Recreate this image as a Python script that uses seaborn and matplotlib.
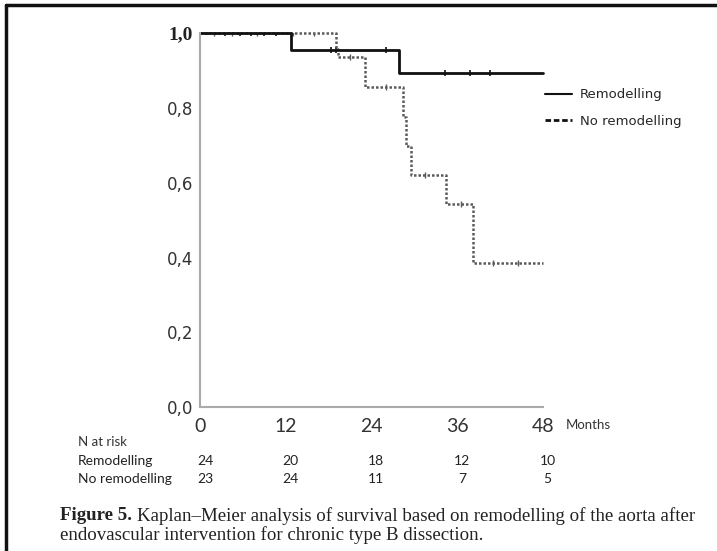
import numpy as np
import pandas as pd
import matplotlib
matplotlib.use("Agg")
import matplotlib.pyplot as plt
from matplotlib.lines import Line2D
import seaborn as sns

# Kaplan-Meier step values (months, cumulative survival)
remod_time = [0, 12.7, 27.8, 48]
remod_surv = [1.0, 0.955, 0.894, 0.894]
noremod_time = [0, 19.0, 19.3, 23.1, 28.4, 28.9, 29.6, 34.4, 38.2, 48]
noremod_surv = [1.0, 0.957, 0.935, 0.856, 0.776, 0.698, 0.620, 0.543, 0.386, 0.386]

# censored observations (tick marks on the curves)
remod_censor = [3.5, 5.6, 7.2, 8.9, 10.7, 18.4, 19.0, 26.1, 34.3, 37.8, 40.6]
noremod_censor = [2.0, 4.5, 8.0, 13.0, 16.0, 21.0, 26.0, 31.5, 36.5, 41.0, 44.5]

month_ticks = [0, 12, 24, 36, 48]
surv_ticks = [0.0, 0.2, 0.4, 0.6, 0.8, 1.0]
surv_labels = ["0,0", "0,2", "0,4", "0,6", "0,8", "1,0"]

groups = ["Remodelling", "No remodelling"]
risk_remod = [24, 20, 18, 12, 10]
risk_noremod = [23, 24, 11, 7, 5]

caption_bold = "Figure 5."
caption_text = "Kaplan\u2013Meier analysis of survival based on remodelling of the aorta after"
caption_line2 = "endovascular intervention for chronic type B dissection."


def step_value(times, surv, t):
    i = np.searchsorted(times, t, side="right") - 1
    return surv[i]


curves = pd.concat([
    pd.DataFrame({"month": remod_time, "surv": remod_surv, "group": groups[0]}),
    pd.DataFrame({"month": noremod_time, "surv": noremod_surv, "group": groups[1]}),
])
censors = pd.concat([
    pd.DataFrame({"month": remod_censor,
                  "surv": [step_value(remod_time, remod_surv, t) for t in remod_censor],
                  "group": groups[0]}),
    pd.DataFrame({"month": noremod_censor,
                  "surv": [step_value(noremod_time, noremod_surv, t) for t in noremod_censor],
                  "group": groups[1]}),
])

sns.set_style("white")
plt.rcParams["font.family"] = ["DejaVu Sans"]
narrow = ["Lato", "DejaVu Sans"]
serif = ["Liberation Serif", "DejaVu Serif"]

W, H = 717, 551
fig = plt.figure(figsize=(W / 100, H / 100), dpi=100)
ax = fig.add_axes([0.279, 0.261, 0.478, 0.679])

# dotted curve first, solid on top
sub = curves[curves.group == groups[1]]
sns.lineplot(data=sub, x="month", y="surv", ax=ax, estimator=None, sort=False,
             drawstyle="steps-post", color="#5a5a5a", linewidth=1.8,
             linestyle=(0, (1, 0.8)), legend=False)
sub = curves[curves.group == groups[0]]
sns.lineplot(data=sub, x="month", y="surv", ax=ax, estimator=None, sort=False,
             drawstyle="steps-post", color="#111111", linewidth=2.0, legend=False)

sns.scatterplot(data=censors[censors.group == groups[0]], x="month", y="surv", ax=ax,
                marker="|", s=25, color="#111111", linewidth=1.2, legend=False)
sns.scatterplot(data=censors[censors.group == groups[1]], x="month", y="surv", ax=ax,
                marker="|", s=20, color="#5a5a5a", linewidth=1.0, legend=False)

ax.set_xlim(0, 48)
ax.set_ylim(0, 1.0)
ax.set_xlabel("")
ax.set_ylabel("")
ax.set_xticks(month_ticks)
ax.set_xticklabels([str(m) for m in month_ticks], fontsize=14, color="#333333", family=narrow)
ax.set_yticks(surv_ticks)
ax.set_yticklabels(surv_labels, fontsize=12, color="#333333")
top_label = ax.get_yticklabels()[-1]
top_label.set_fontfamily("Liberation Serif")
top_label.set_fontweight("bold")
top_label.set_fontsize(14)
top_label.set_color("#222222")
ax.tick_params(axis="y", direction="out", length=4, width=1, color="#888888", pad=1)
ax.tick_params(axis="x", direction="inout", length=5, width=1, color="#aaaaaa", pad=5)
for side in ["top", "right"]:
    ax.spines[side].set_visible(False)
for side in ["left", "bottom"]:
    ax.spines[side].set_color("#aaaaaa")
    ax.spines[side].set_linewidth(1.5)
for ln in ax.lines:
    ln.set_clip_on(False)

handles = [Line2D([], [], color="#111111", linewidth=1.5),
           Line2D([], [], color="#111111", linewidth=2.0, linestyle=(0, (2, 1)))]
ax.legend(handles, groups, loc="upper left", bbox_to_anchor=(0.744, 0.861),
          bbox_transform=fig.transFigure, frameon=False, fontsize=9.5,
          handlelength=2.0, handletextpad=0.6, labelspacing=1.0)

fig.text(566 / W, 1 - 425 / H, "Months", fontsize=9.5, va="center",
         family=narrow, color="#333333")

# number at risk table
fig.text(78 / W, 1 - 442 / H, "N at risk", fontsize=9.5, va="center", family=narrow, color="#333333")
row_y = [461, 479]
for label, counts, y in zip(groups, [risk_remod, risk_noremod], row_y):
    fig.text(78 / W, 1 - y / H, label, fontsize=10, va="center", family=narrow, color="#222222")
    for m, n in zip(month_ticks, counts):
        xf = ax.transData.transform((m, 0))[0] / fig.bbox.width + 5 / W
        fig.text(xf, 1 - y / H, str(n), fontsize=10, va="center", ha="center",
                 family=narrow, color="#222222")

# caption
renderer = fig.canvas.get_renderer()
t_bold = fig.text(60 / W, 1 - 516 / H, caption_bold, fontsize=13.6, fontweight="bold",
                  va="center", family=serif, color="#222222")
bold_end = t_bold.get_window_extent(renderer).x1
fig.text((bold_end + 5) / W, 1 - 516 / H, caption_text, fontsize=13.6, va="center",
         family=serif, color="#222222")
fig.text(60 / W, 1 - 535 / H, caption_line2, fontsize=13.6, va="center",
         family=serif, color="#222222")

# scan frame (top and left edges)
fig.add_artist(Line2D([6 / W, 1.0], [1 - 5 / H, 1 - 5 / H], color="#111111",
                      linewidth=2.5, transform=fig.transFigure))
fig.add_artist(Line2D([6 / W, 6 / W], [0, 1 - 5 / H], color="#111111",
                      linewidth=2.5, transform=fig.transFigure))

fig.savefig("out.png", dpi=100)
